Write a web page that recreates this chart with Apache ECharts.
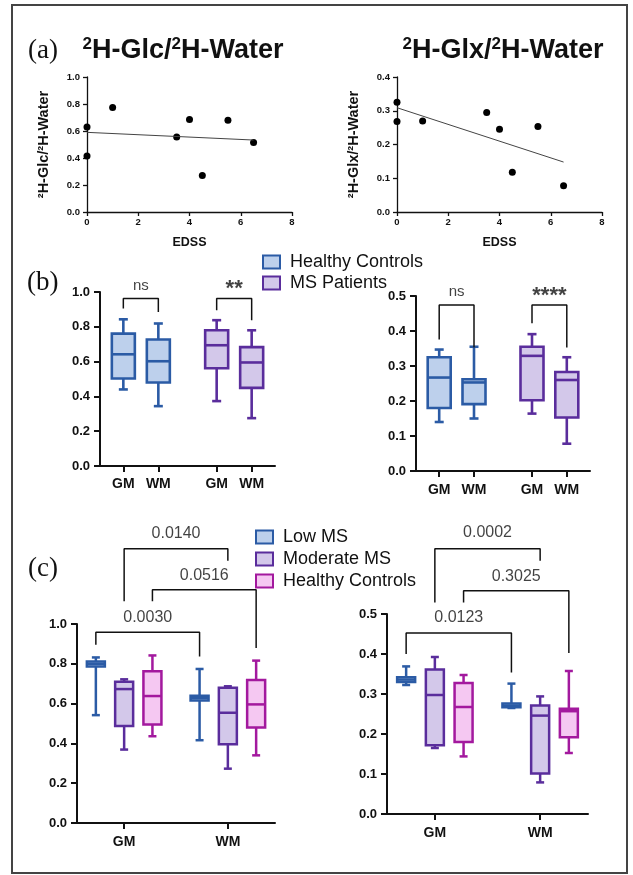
<!DOCTYPE html>
<html>
<head>
<meta charset="utf-8">
<title>2H ratios</title>
<script src="https://cdn.jsdelivr.net/npm/echarts@6.0.0/dist/echarts.min.js"></script>
<style>
  html, body { margin: 0; padding: 0; background: #fff; }
  #chart { width: 633px; height: 875px; }
</style>
</head>
<body>
<div id="chart"></div>
<script>
const FONT = '"Liberation Sans", Arial, sans-serif';

// (a) EDSS vs ratio
const edss = [0, 0, 1, 3.5, 4, 4.5, 5.5, 6.5];
const glcRatio = [0.63, 0.415, 0.775, 0.555, 0.685, 0.27, 0.68, 0.515];
const glxRatio = [0.325, 0.268, 0.27, 0.295, 0.245, 0.118, 0.253, 0.078];
const fitX = [0, 6.5];
const glcFitY = [0.59, 0.533];
const glxFitY = [0.309, 0.148];

// (b) box stats [min, Q1, median, Q3, max], GM then WM
const bLabels = ['GM', 'WM', 'GM', 'WM'];
const bTickPos = [4, 10, 20, 26];
const bHcPos = [4, 10];
const bMsPos = [20, 26];
const hcGlc = [[0.44, 0.503, 0.642, 0.761, 0.843], [0.344, 0.48, 0.602, 0.727, 0.819]];
const msGlc = [[0.373, 0.562, 0.694, 0.78, 0.838], [0.275, 0.449, 0.595, 0.683, 0.78]];
const hcGlx = [[0.14, 0.18, 0.267, 0.325, 0.347], [0.15, 0.191, 0.253, 0.262, 0.355]];
const msGlx = [[0.164, 0.202, 0.329, 0.355, 0.391], [0.078, 0.153, 0.26, 0.283, 0.325]];

// (c) box stats by EDSS group
const cLabels = ['GM', 'WM'];
const cTickPos = [5, 16];
const lowPos = [2, 13];
const modPos = [5, 16];
const hcPos = [8, 19];
const lowGlc = [[0.542, 0.786, 0.80, 0.811, 0.832], [0.416, 0.616, 0.628, 0.64, 0.774]];
const modGlc = [[0.369, 0.487, 0.673, 0.71, 0.722], [0.273, 0.396, 0.554, 0.68, 0.687]];
const hcGlcC = [[0.436, 0.495, 0.638, 0.763, 0.842], [0.34, 0.48, 0.596, 0.719, 0.816]];
const lowGlx = [[0.3225, 0.33, 0.336, 0.342, 0.369], [0.265, 0.267, 0.271, 0.276, 0.326]];
const modGlx = [[0.165, 0.172, 0.2975, 0.361, 0.3925], [0.079, 0.101, 0.246, 0.271, 0.294]];
const hcGlxC = [[0.144, 0.18, 0.2675, 0.3275, 0.3475], [0.1525, 0.192, 0.257, 0.263, 0.3575]];

// brackets: [x1, x2, y, left end, right end, text, text y]
const bGlcBrackets = [[4, 10, 0.962, 0.905, 0.885, 'ns', 1.034], [20, 26, 0.962, 0.895, 0.838, '**', 1.02]];
const bGlxBrackets = [[4, 10, 0.474, 0.376, 0.353, 'ns', 0.511], [20, 26, 0.474, 0.422, 0.353, '****', 0.5]];
const cGlcBrackets = [
  [2, 13, 0.958, 0.896, 0.837, '0.0030', 1.03],
  [5, 16, 1.378, 1.114, 1.318, '0.0140', 1.452],
  [8, 19, 1.172, 1.114, 0.879, '0.0516', 1.243]
];
const cGlxBrackets = [
  [2, 13, 0.4525, 0.40, 0.354, '0.0123', 0.49],
  [5, 16, 0.663, 0.529, 0.633, '0.0002', 0.7025],
  [8, 19, 0.558, 0.529, 0.4025, '0.3025', 0.594]
];

const BLUE = { stroke: '#2B5BA5', fill: '#BDD0EC' };
const PURPLE = { stroke: '#5A2D9C', fill: '#D3C8EA' };
const MAGENTA = { stroke: '#A3199E', fill: '#F5C8F2' };

const chart = echarts.init(document.getElementById('chart'));

function boxRenderer(col, boxW, capW, lw) {
  return function (params, api) {
    const x = api.value(0);
    const lo = api.coord([x, api.value(1)]);
    const q1 = api.coord([x, api.value(2)]);
    const md = api.coord([x, api.value(3)]);
    const q3 = api.coord([x, api.value(4)]);
    const hi = api.coord([x, api.value(5)]);
    const cx = lo[0];
    const ls = { stroke: col.stroke, lineWidth: lw, fill: null };
    return {
      type: 'group',
      children: [
        { type: 'line', shape: { x1: cx, y1: q3[1], x2: cx, y2: hi[1] }, style: ls },
        { type: 'line', shape: { x1: cx - capW / 2, y1: hi[1], x2: cx + capW / 2, y2: hi[1] }, style: ls },
        { type: 'line', shape: { x1: cx, y1: q1[1], x2: cx, y2: lo[1] }, style: ls },
        { type: 'line', shape: { x1: cx - capW / 2, y1: lo[1], x2: cx + capW / 2, y2: lo[1] }, style: ls },
        { type: 'rect', shape: { x: cx - boxW / 2, y: q3[1], width: boxW, height: q1[1] - q3[1] },
          style: { fill: col.fill, stroke: col.stroke, lineWidth: lw } },
        { type: 'line', shape: { x1: cx - boxW / 2, y1: md[1], x2: cx + boxW / 2, y2: md[1] }, style: ls }
      ]
    };
  };
}

function boxSeries(name, idx, pos, stats, col, boxW, capW, lw) {
  return {
    type: 'custom', name: name, xAxisIndex: idx, yAxisIndex: idx,
    renderItem: boxRenderer(col, boxW, capW, lw),
    encode: { x: 0, y: [1, 2, 3, 4, 5] },
    data: stats.map((s, i) => [pos[i]].concat(s)),
    clip: false, silent: true, animation: false
  };
}

function bracketSeries(idx, list) {
  const out = [];
  list.forEach(b => {
    out.push({
      type: 'line', xAxisIndex: idx, yAxisIndex: idx, symbol: 'none', clip: false,
      silent: true, animation: false,
      lineStyle: { color: '#111', width: 1.5 },
      data: [[b[0], b[3]], [b[0], b[2]], [b[1], b[2]], [b[1], b[4]]]
    });
    const star = b[5].indexOf('*') >= 0;
    out.push({
      type: 'scatter', xAxisIndex: idx, yAxisIndex: idx, symbolSize: 1, clip: false,
      silent: true, animation: false, itemStyle: { color: 'rgba(0,0,0,0)' },
      data: [{ name: b[5], value: [(b[0] + b[1]) / 2, b[6]] }],
      label: {
        show: true, position: 'inside', formatter: '{b}', color: '#111', fontFamily: FONT,
        fontSize: star ? 22 : (b[5] === 'ns' ? 15 : 16), fontWeight: star ? 'bold' : 'normal'
      }
    });
  });
  return out;
}

function yAxis(idx, max, interval, small) {
  const lw = small ? 1.3 : 2;
  return {
    gridIndex: idx, type: 'value', min: 0, max: max, interval: interval,
    name: small ? '²H-' + (idx === 0 ? 'Glc' : 'Glx') + '/²H-Water' : '',
    nameLocation: 'middle', nameRotate: 90, nameGap: 36,
    nameTextStyle: { fontFamily: FONT, fontWeight: 'bold', fontSize: 14.5, color: '#111' },
    axisLine: { show: true, lineStyle: { color: '#111', width: lw } },
    axisTick: { show: true, length: small ? 4 : 6, lineStyle: { color: '#111', width: lw } },
    axisLabel: { fontFamily: FONT, fontWeight: 'bold', fontSize: small ? 9.5 : 13, color: '#111',
      margin: small ? 7 : 10, formatter: v => v.toFixed(1) },
    splitLine: { show: false }
  };
}

function catAxis(idx, max, ticks, labels, margin) {
  return {
    gridIndex: idx, type: 'value', min: 0, max: max,
    axisLine: { lineStyle: { color: '#111', width: 2 } },
    axisTick: { show: true, length: 6, customValues: ticks, lineStyle: { color: '#111', width: 2 } },
    axisLabel: { fontFamily: FONT, fontWeight: 'bold', fontSize: 14, color: '#111', margin: margin,
      customValues: ticks, formatter: v => labels[ticks.indexOf(v)] || '' },
    splitLine: { show: false }
  };
}

const edssAxis = idx => ({
  gridIndex: idx, type: 'value', min: 0, max: 8, interval: 2,
  name: 'EDSS', nameLocation: 'middle', nameGap: 24,
  nameTextStyle: { fontFamily: FONT, fontWeight: 'bold', fontSize: 12.5, color: '#111' },
  axisLine: { lineStyle: { color: '#111', width: 1.3 } },
  axisTick: { show: true, length: 4, lineStyle: { color: '#111', width: 1.3 } },
  axisLabel: { fontFamily: FONT, fontWeight: 'bold', fontSize: 9.5, color: '#111', margin: 5 },
  splitLine: { show: false }
});

const legendText = { fontFamily: FONT, fontSize: 18, color: '#111', padding: [0, 0, 0, 5] };
const legendIcon = col => ({ color: col.fill, borderColor: col.stroke, borderWidth: 2 });

const gridBase = { outerBoundsMode: 'none', containLabel: false };

const titleRich = {
  s: { fontFamily: FONT, fontWeight: 'bold', fontSize: 17, fill: '#111', verticalAlign: 'top', lineHeight: 30 },
  m: { fontFamily: FONT, fontWeight: 'bold', fontSize: 27, fill: '#111', lineHeight: 30 }
};
const serifLabel = (txt, x, y) => ({
  type: 'text', x: x, y: y,
  style: { text: txt, fontFamily: '"Liberation Serif", "Times New Roman", serif',
    fontSize: 27, fill: '#111', verticalAlign: 'middle' }
});

const option = {
  backgroundColor: '#fff',
  animation: false,
  grid: [
    Object.assign({ left: 87, top: 77, width: 205, height: 135 }, gridBase),
    Object.assign({ left: 397, top: 77, width: 205, height: 135 }, gridBase),
    Object.assign({ left: 100, top: 292, width: 175, height: 174 }, gridBase),
    Object.assign({ left: 416, top: 296, width: 174, height: 175 }, gridBase),
    Object.assign({ left: 77, top: 624, width: 198, height: 199 }, gridBase),
    Object.assign({ left: 387, top: 614, width: 201, height: 200 }, gridBase)
  ],
  xAxis: [
    edssAxis(0), edssAxis(1),
    catAxis(2, 30, bTickPos, bLabels, 11), catAxis(3, 30, bTickPos, bLabels, 12),
    catAxis(4, 21, cTickPos, cLabels, 12), catAxis(5, 21, cTickPos, cLabels, 12)
  ],
  yAxis: [
    yAxis(0, 1, 0.2, true), yAxis(1, 0.4, 0.1, true),
    yAxis(2, 1, 0.2), yAxis(3, 0.5, 0.1),
    yAxis(4, 1, 0.2), yAxis(5, 0.5, 0.1)
  ],
  legend: [
    { orient: 'vertical', left: 262, top: 253, padding: 0, itemWidth: 17, itemHeight: 13, itemGap: 3,
      icon: 'rect', selectedMode: false, textStyle: legendText,
      data: [{ name: 'Healthy Controls', itemStyle: legendIcon(BLUE) },
             { name: 'MS Patients', itemStyle: legendIcon(PURPLE) }] },
    { orient: 'vertical', left: 255, top: 528, padding: 0, itemWidth: 17, itemHeight: 13, itemGap: 4,
      icon: 'rect', selectedMode: false, textStyle: legendText,
      data: [{ name: 'Low MS', itemStyle: legendIcon(BLUE) },
             { name: 'Moderate MS', itemStyle: legendIcon(PURPLE) },
             { name: 'Healthy Controls', itemStyle: legendIcon(MAGENTA) }] }
  ],
  graphic: [
    { type: 'rect', shape: { x: 12, y: 5, width: 615, height: 868 },
      style: { fill: 'none', stroke: '#444', lineWidth: 2 } },
    serifLabel('(a)', 28, 51),
    serifLabel('(b)', 27, 283),
    serifLabel('(c)', 28, 569),
    { type: 'text', x: 183, y: 51, style: { text: '{s|2}{m|H-Glc/}{s|2}{m|H-Water}', rich: titleRich,
      align: 'center', verticalAlign: 'middle' } },
    { type: 'text', x: 503, y: 51, style: { text: '{s|2}{m|H-Glx/}{s|2}{m|H-Water}', rich: titleRich,
      align: 'center', verticalAlign: 'middle' } }
  ],
  series: [
    { type: 'scatter', xAxisIndex: 0, yAxisIndex: 0, symbolSize: 7, itemStyle: { color: '#000', opacity: 1 },
      data: edss.map((x, i) => [x, glcRatio[i]]), silent: true },
    { type: 'line', xAxisIndex: 0, yAxisIndex: 0, symbol: 'none', lineStyle: { color: '#444', width: 1 },
      data: fitX.map((x, i) => [x, glcFitY[i]]), silent: true },
    { type: 'scatter', xAxisIndex: 1, yAxisIndex: 1, symbolSize: 7, itemStyle: { color: '#000', opacity: 1 },
      data: edss.map((x, i) => [x, glxRatio[i]]), silent: true },
    { type: 'line', xAxisIndex: 1, yAxisIndex: 1, symbol: 'none', lineStyle: { color: '#444', width: 1 },
      data: fitX.map((x, i) => [x, glxFitY[i]]), silent: true },

    boxSeries('Healthy Controls', 2, bHcPos, hcGlc, BLUE, 23, 9, 2.6),
    boxSeries('MS Patients', 2, bMsPos, msGlc, PURPLE, 23, 9, 2.6),
    boxSeries('Healthy Controls', 3, bHcPos, hcGlx, BLUE, 23, 9, 2.6),
    boxSeries('MS Patients', 3, bMsPos, msGlx, PURPLE, 23, 9, 2.6),

    boxSeries('Low MS', 4, lowPos, lowGlc, BLUE, 18, 8, 2.5),
    boxSeries('Moderate MS', 4, modPos, modGlc, PURPLE, 18, 8, 2.5),
    boxSeries('Healthy Controls', 4, hcPos, hcGlcC, MAGENTA, 18, 8, 2.5),
    boxSeries('Low MS', 5, lowPos, lowGlx, BLUE, 18, 8, 2.5),
    boxSeries('Moderate MS', 5, modPos, modGlx, PURPLE, 18, 8, 2.5),
    boxSeries('Healthy Controls', 5, hcPos, hcGlxC, MAGENTA, 18, 8, 2.5)
  ]
    .concat(bracketSeries(2, bGlcBrackets))
    .concat(bracketSeries(3, bGlxBrackets))
    .concat(bracketSeries(4, cGlcBrackets))
    .concat(bracketSeries(5, cGlxBrackets))
};

chart.setOption(option);
</script>
</body>
</html>
